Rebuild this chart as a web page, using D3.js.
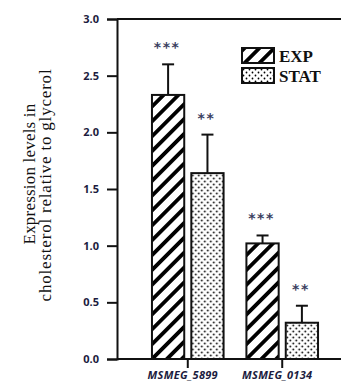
<!DOCTYPE html>
<html>
<head>
<meta charset="utf-8">
<script src="https://cdn.jsdelivr.net/npm/d3@7"></script>
<style>
  body { margin: 0; background: #fff; }
  svg { display: block; }
</style>
</head>
<body>
<div id="chart"></div>
<script>
let width = 341,
  height = 392

// data
let genes = ['MSMEG_5899', 'MSMEG_0134']
let phases = ['EXP', 'STAT']
let expValues = [2.33, 1.02]
let expErrors = [0.27, 0.07]
let statValues = [1.64, 0.32]
let statErrors = [0.34, 0.15]
let expStars = ['***', '***']
let statStars = ['**', '**']
let yTicks = [0, 0.5, 1.0, 1.5, 2.0, 2.5, 3.0]

let margin = {top: 19, right: 0, bottom: 33, left: 117}

let svg = d3.select('#chart')
  .append('svg')
  .attr('width', width)
  .attr('height', height)

// patterns for hatching
let defs = svg.append('defs')

let hatch = defs.append('pattern')
  .attr('id', 'hatch')
  .attr('patternUnits', 'userSpaceOnUse')
  .attr('width', 10.5)
  .attr('height', 10.5)
  .attr('patternTransform', 'rotate(45)')
hatch.append('rect').attr('width', 10.5).attr('height', 10.5).attr('fill', '#fff')
hatch.append('rect').attr('width', 3.8).attr('height', 10.5).attr('fill', '#000')

let dots = defs.append('pattern')
  .attr('id', 'dots')
  .attr('patternUnits', 'userSpaceOnUse')
  .attr('width', 6)
  .attr('height', 6)
dots.append('rect').attr('width', 6).attr('height', 6).attr('fill', '#fff')
dots.append('circle').attr('cx', 1.5).attr('cy', 1.5).attr('r', 0.9).attr('fill', '#000')
dots.append('circle').attr('cx', 4.5).attr('cy', 4.5).attr('r', 0.9).attr('fill', '#000')

let y = d3.scaleLinear()
  .domain([0, 3])
  .range([height - margin.bottom, margin.top])

let x = d3.scaleBand()
  .domain(genes)
  .range([150, 320])
  .paddingInner(0.2)
  .paddingOuter(0)

let xSub = d3.scaleBand()
  .domain(phases)
  .range([0, x.bandwidth()])
  .paddingInner(0.18)
  .paddingOuter(0.05)

let fills = {EXP: 'url(#hatch)', STAT: 'url(#dots)'}

// build rows
let rows = []
genes.forEach((g, i) => {
  rows.push({gene: g, phase: 'EXP', value: expValues[i], err: expErrors[i], stars: expStars[i]})
  rows.push({gene: g, phase: 'STAT', value: statValues[i], err: statErrors[i], stars: statStars[i]})
})

// top frame line
svg.append('line')
  .attr('x1', margin.left).attr('x2', width)
  .attr('y1', y(3)).attr('y2', y(3))
  .attr('stroke', '#111').attr('stroke-width', 2)

// y axis
let yAxis = svg.append('g')
  .attr('transform', `translate(${margin.left},0)`)
  .call(d3.axisLeft(y).tickValues(yTicks).tickFormat(d3.format('.1f')).tickSize(10).tickPadding(8))
yAxis.select('.domain').attr('stroke', '#111').attr('stroke-width', 2)
yAxis.selectAll('.tick line').attr('stroke', '#111').attr('stroke-width', 2)
yAxis.selectAll('.tick text')
  .attr('fill', '#1c1c40')
  .style('font-family', 'Open Sans, sans-serif')
  .style('font-weight', 'bold')
  .style('font-size', '11px')

// x axis
let xAxis = svg.append('g')
  .attr('transform', `translate(0,${y(0)})`)
  .call(d3.axisBottom(x).tickSize(9).tickPadding(3))
xAxis.select('.domain').attr('d', `M${margin.left},0H${width}`).attr('stroke', '#111').attr('stroke-width', 2)
xAxis.selectAll('.tick line').attr('stroke', '#111').attr('stroke-width', 2)
xAxis.selectAll('.tick text')
  .attr('fill', '#1c1c40')
  .attr('dx', -5)
  .style('font-family', 'Open Sans, sans-serif')
  .style('font-style', 'italic')
  .style('font-weight', 'bold')
  .style('font-size', '11px')
  .style('letter-spacing', '0.3px')

// bars
let groups = svg.selectAll('.bar')
  .data(rows)
  .enter().append('g')
  .attr('class', 'bar')
  .attr('transform', d => `translate(${x(d.gene) + xSub(d.phase)},0)`)

// error bars (drawn behind the bars)
groups.append('line')
  .attr('x1', xSub.bandwidth() / 2).attr('x2', xSub.bandwidth() / 2)
  .attr('y1', d => y(d.value)).attr('y2', d => y(d.value + d.err))
  .attr('stroke', '#111').attr('stroke-width', 2)
groups.append('line')
  .attr('x1', xSub.bandwidth() / 2 - 6).attr('x2', xSub.bandwidth() / 2 + 6)
  .attr('y1', d => y(d.value + d.err)).attr('y2', d => y(d.value + d.err))
  .attr('stroke', '#111').attr('stroke-width', 2)

groups.append('rect')
  .attr('x', 0)
  .attr('y', d => y(d.value))
  .attr('width', xSub.bandwidth())
  .attr('height', d => y(0) - y(d.value))
  .attr('fill', d => fills[d.phase])
  .attr('stroke', '#111')
  .attr('stroke-width', 2)

// significance stars
groups.append('text')
  .attr('x', xSub.bandwidth() / 2 - 1)
  .attr('y', d => y(d.value + d.err) - 12)
  .attr('text-anchor', 'middle')
  .attr('fill', '#3a4060')
  .style('font-family', 'DejaVu Sans, sans-serif')
  .style('font-weight', 'bold')
  .style('font-size', '14px')
  .style('letter-spacing', '1.5px')
  .text(d => d.stars)

// legend
let legend = svg.selectAll('.legend')
  .data(phases)
  .enter().append('g')
  .attr('class', 'legend')
  .attr('transform', (d, i) => `translate(242,${48 + i * 20})`)
legend.append('rect')
  .attr('width', 32).attr('height', 15)
  .attr('fill', d => fills[d])
  .attr('stroke', '#111').attr('stroke-width', 2)
legend.append('text')
  .attr('x', 37).attr('y', 14)
  .attr('fill', '#111')
  .style('font-family', 'Liberation Serif, serif')
  .style('font-weight', 'bold')
  .style('font-size', '17px')
  .text(d => d)

// y label
let ylab = svg.append('text')
  .attr('transform', `translate(0,${(y(0) + y(3)) / 2}) rotate(-90)`)
  .attr('text-anchor', 'middle')
  .attr('fill', '#111')
  .style('font-family', 'Liberation Serif, serif')
  .style('font-size', '17px')
ylab.append('tspan').attr('x', 15).attr('y', 35).style('letter-spacing', '0.2px').text('Expression  levels in')
ylab.append('tspan').attr('x', 4).attr('y', 51).style('letter-spacing', '0.8px').text('cholesterol  relative to glycerol')
</script>
</body>
</html>
